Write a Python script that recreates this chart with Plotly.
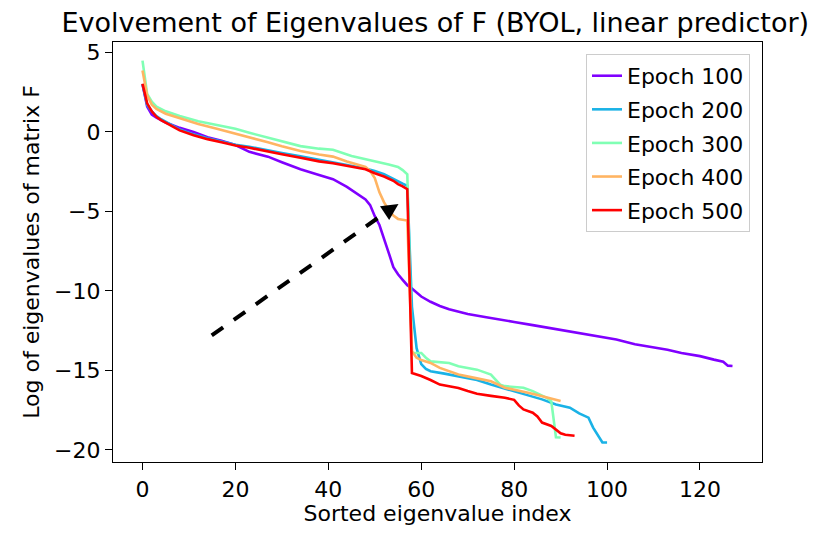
import plotly.graph_objects as go

# ---- data ----
e100_x = [0, 1, 2, 3, 5, 8, 11, 14, 17, 20, 23, 25, 27, 30, 34, 38, 41, 44, 46, 48, 49, 50, 51, 52, 53, 54, 55, 56, 57, 58, 59, 60, 62, 64, 66, 70, 74, 77, 80, 84, 88, 92, 96, 99, 102, 106, 110, 113, 116, 120, 123, 125, 126, 127]
e100_y = [3.0, 1.6, 1.1, 0.9, 0.6, 0.26, 0.0, -0.33, -0.55, -0.82, -1.25, -1.4, -1.55, -1.9, -2.34, -2.7, -2.97, -3.45, -3.85, -4.25, -4.6, -5.3, -5.85, -6.8, -7.6, -8.5, -8.95, -9.3, -9.64, -9.85, -10.1, -10.35, -10.68, -10.95, -11.15, -11.45, -11.65, -11.82, -11.95, -12.15, -12.34, -12.55, -12.75, -12.9, -13.05, -13.35, -13.55, -13.7, -13.9, -14.1, -14.32, -14.45, -14.7, -14.72]

e200_x = [0, 1, 2, 3, 4, 6, 8, 11, 14, 17, 20, 23, 27, 30, 34, 38, 41, 45, 48, 50, 52, 54, 55, 56, 57, 58, 59, 60, 61, 62, 65, 68, 72, 75, 78, 81, 84, 86, 89, 92, 94, 95, 96, 97, 98, 99, 100]
e200_y = [3.0, 1.7, 1.3, 1.0, 0.8, 0.45, 0.15, -0.15, -0.4, -0.6, -0.8, -0.93, -1.13, -1.32, -1.53, -1.75, -1.9, -2.12, -2.3, -2.45, -2.65, -2.95, -3.12, -3.25, -3.39, -11.0, -13.6, -14.6, -14.9, -15.05, -15.2, -15.37, -15.6, -15.89, -16.15, -16.41, -16.65, -16.82, -17.14, -17.34, -17.7, -17.86, -17.97, -18.6, -19.11, -19.53, -19.53]

e300_x = [0, 1, 2, 3, 5, 8, 12, 16, 20, 23, 27, 30, 34, 38, 41, 45, 48, 51, 53, 55, 56, 57, 58, 60, 61, 62, 66, 68, 72, 75, 77, 78, 82, 84, 87, 88, 89, 90]
e300_y = [4.49, 2.4, 1.9, 1.6, 1.3, 1.0, 0.68, 0.42, 0.2, -0.05, -0.35, -0.6, -0.89, -1.05, -1.12, -1.51, -1.7, -1.9, -2.05, -2.2, -2.4, -2.66, -13.9, -13.9, -14.2, -14.43, -14.53, -14.74, -14.95, -15.26, -15.9, -15.99, -16.09, -16.3, -16.72, -16.95, -19.2, -19.22]

e400_x = [0, 1, 2, 3, 5, 8, 12, 16, 20, 23, 27, 30, 34, 38, 41, 44, 46, 48, 49, 50, 51, 52, 53, 54, 55, 56, 57, 58, 59, 60, 62, 64, 66, 68, 72, 75, 78, 80, 83, 85, 87, 89, 90]
e400_y = [3.86, 2.3, 1.72, 1.45, 1.15, 0.85, 0.5, 0.2, -0.1, -0.36, -0.65, -0.9, -1.2, -1.42, -1.55, -1.85, -2.03, -2.2, -2.45, -2.9, -3.8, -4.43, -4.9, -5.26, -5.47, -5.52, -5.57, -13.8, -14.2, -14.35, -14.53, -14.84, -15.05, -15.26, -15.5, -15.68, -16.09, -16.2, -16.41, -16.55, -16.72, -16.85, -16.93]

e500_x = [0, 1, 2, 3, 4, 6, 8, 11, 14, 17, 20, 23, 27, 30, 34, 38, 41, 45, 48, 50, 52, 54, 55, 56, 57, 58, 60, 62, 64, 66, 68, 70, 72, 75, 78, 80, 81, 82, 84, 85, 86, 88, 89, 90, 91, 93]
e500_y = [3.03, 1.8, 1.3, 0.95, 0.75, 0.4, 0.1, -0.2, -0.45, -0.65, -0.85, -0.99, -1.2, -1.4, -1.62, -1.85, -1.97, -2.18, -2.35, -2.6, -2.8, -3.07, -3.28, -3.42, -3.6, -15.16, -15.35, -15.6, -15.89, -16.0, -16.1, -16.3, -16.47, -16.6, -16.72, -16.85, -17.2, -17.45, -17.66, -17.9, -18.28, -18.49, -18.7, -18.95, -19.05, -19.11]

series_names = ["Epoch 100", "Epoch 200", "Epoch 300", "Epoch 400", "Epoch 500"]
series_x = [e100_x, e200_x, e300_x, e400_x, e500_x]
series_y = [e100_y, e200_y, e300_y, e400_y, e500_y]
series_colors = ["#8000ff", "#1ab2e6", "#80ffb4", "#ffb462", "#ff0000"]

arrow_tail = (14.9, -12.8)
arrow_head = (55.1, -4.53)
arrow_back = (52.4, -5.05)

x_ticks = [0, 20, 40, 60, 80, 100, 120]
y_ticks = [5, 0, -5, -10, -15, -20]

FONT = "DejaVu Sans"
FS = 22

fig = go.Figure()
for name, xs, ys, col in zip(series_names, series_x, series_y, series_colors):
    fig.add_trace(go.Scatter(x=xs, y=ys, mode="lines", name=name, legendgroup=name,
                             line=dict(color=col, width=2.6)))

fig.add_shape(type="line", xref="x", yref="y",
              x0=arrow_tail[0], y0=arrow_tail[1], x1=arrow_back[0], y1=arrow_back[1],
              line=dict(color="black", width=4, dash="14px,13px"))
fig.add_annotation(x=arrow_head[0], y=arrow_head[1], ax=arrow_back[0], ay=arrow_back[1],
                   xref="x", yref="y", axref="x", ayref="y", text="",
                   showarrow=True, arrowhead=2, arrowsize=0.95, arrowwidth=3.5,
                   arrowcolor="black")

fig.update_layout(
    width=826, height=533,
    margin=dict(l=113, r=64, t=42, b=68),
    paper_bgcolor="white", plot_bgcolor="white",
    font=dict(family=FONT, size=FS, color="black"),
    title=dict(text="Evolvement of Eigenvalues of F (BYOL, linear predictor)",
               x=0.527, xanchor="center", xref="container", yref="container", y=0.958, yanchor="middle",
               font=dict(family=FONT, size=27, color="black")),
    showlegend=True,
    legend=dict(x=0.9815, y=0.9716, xanchor="right", yanchor="top",
                bgcolor="rgba(255,255,255,0.8)", bordercolor="#cccccc", borderwidth=1,
                font=dict(family=FONT, size=FS, color="black"),
                tracegroupgap=2),
)
fig.update_xaxes(range=[-6.35, 133.35], tickvals=x_ticks, ticktext=[str(v) for v in x_ticks],
                 showgrid=False, zeroline=False, showline=True, linecolor="black", linewidth=1.2,
                 mirror=True, ticks="outside", ticklen=7, tickwidth=1.2, tickcolor="black",
                 tickfont=dict(family=FONT, size=FS),
                 title=dict(text="Sorted eigenvalue index", font=dict(family=FONT, size=FS), standoff=4))
fig.update_yaxes(range=[-20.76, 5.66], tickvals=y_ticks,
                 ticktext=[str(v).replace("-", "\u2212") for v in y_ticks],
                 showgrid=False, zeroline=False, showline=True, linecolor="black", linewidth=1.2,
                 mirror=True, ticks="outside", ticklen=7, tickwidth=1.2, tickcolor="black",
                 tickfont=dict(family=FONT, size=FS),
                 title=dict(text="Log of eigenvalues of matrix F", font=dict(family=FONT, size=FS), standoff=8))

fig.write_html("out.html")
